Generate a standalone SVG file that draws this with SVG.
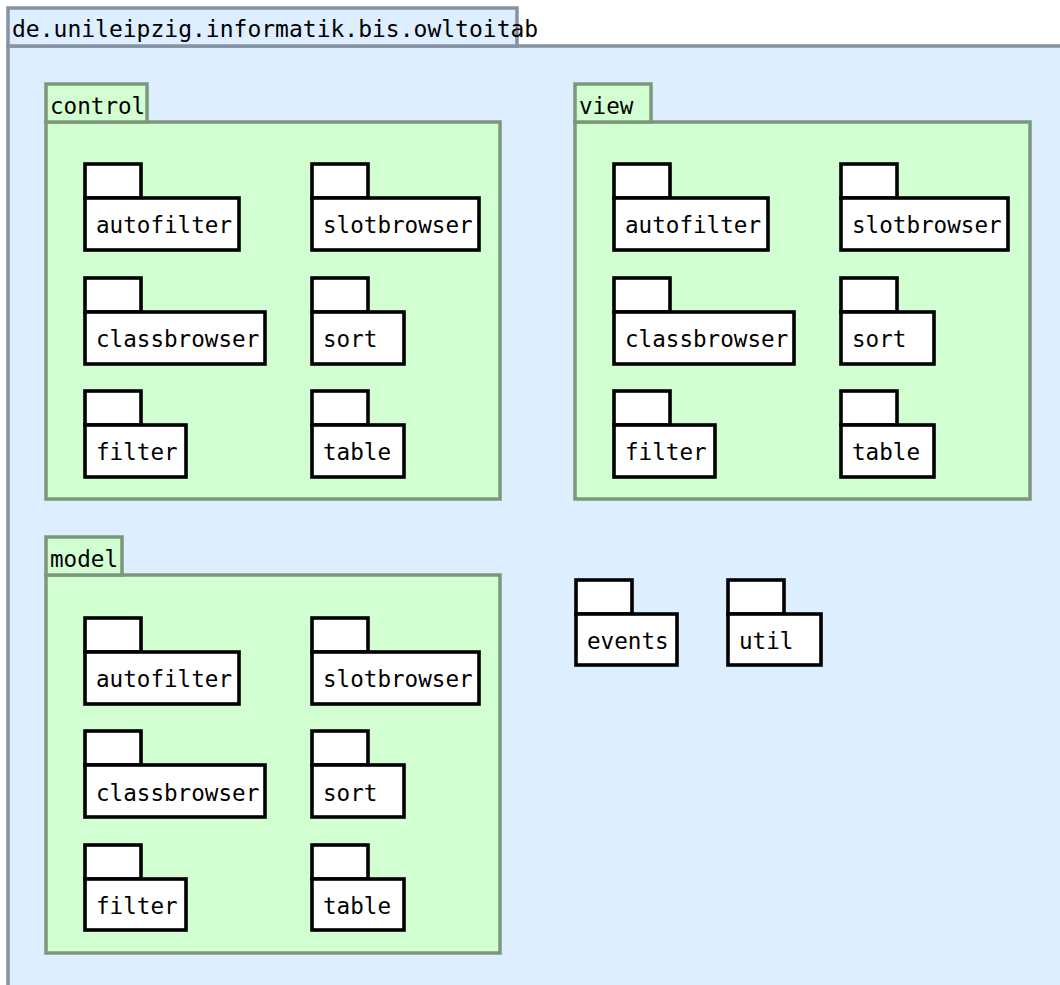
<svg xmlns="http://www.w3.org/2000/svg" width="1060" height="985" viewBox="0 0 1060 985">
<style>
text{font-family:"DejaVu Sans Mono","Liberation Mono",monospace;font-size:22.6px;fill:#000}
.title{font-size:23px}
.outer{fill:#ddeeff;stroke:#8592a2;stroke-width:3.5}
.grp{fill:#d2ffd2;stroke:#7b987b;stroke-width:3.5}
.pkg{fill:#fff;stroke:#000;stroke-width:3.6}
</style>
<rect width="1060" height="985" fill="#fff"/>
<g id="owltoitab">
<rect class="outer" x="8" y="46" width="1070" height="960"/>
<rect class="outer" x="8" y="8" width="509" height="38"/>
<text class="title" x="12" y="37">de.unileipzig.informatik.bis.owltoitab</text>
</g>
<g id="control">
<rect class="grp" x="46" y="122" width="454" height="377"/>
<rect class="grp" x="46" y="84" width="101" height="38"/>
<text x="50" y="114">control</text>
</g>
<g id="view">
<rect class="grp" x="575" y="122" width="455" height="377"/>
<rect class="grp" x="575" y="84" width="76" height="38"/>
<text x="579" y="114">view</text>
</g>
<g id="model">
<rect class="grp" x="46" y="575" width="454" height="378"/>
<rect class="grp" x="46" y="537" width="76" height="38"/>
<text x="50" y="567">model</text>
</g>
<g id="control-autofilter"><rect class="pkg" x="85" y="164" width="56" height="34"/><rect class="pkg" x="85" y="198" width="154" height="52"/><text x="96" y="232.5">autofilter</text></g>
<g id="control-slotbrowser"><rect class="pkg" x="312" y="164" width="56" height="34"/><rect class="pkg" x="312" y="198" width="167" height="52"/><text x="323" y="232.5">slotbrowser</text></g>
<g id="control-classbrowser"><rect class="pkg" x="85" y="278" width="56" height="34"/><rect class="pkg" x="85" y="312" width="180" height="52"/><text x="96" y="346.5">classbrowser</text></g>
<g id="control-sort"><rect class="pkg" x="312" y="278" width="56" height="34"/><rect class="pkg" x="312" y="312" width="92" height="52"/><text x="323" y="346.5">sort</text></g>
<g id="control-filter"><rect class="pkg" x="85" y="391" width="56" height="34"/><rect class="pkg" x="85" y="425" width="101" height="52"/><text x="96" y="459.5">filter</text></g>
<g id="control-table"><rect class="pkg" x="312" y="391" width="56" height="34"/><rect class="pkg" x="312" y="425" width="92" height="52"/><text x="323" y="459.5">table</text></g>
<g id="view-autofilter"><rect class="pkg" x="614" y="164" width="56" height="34"/><rect class="pkg" x="614" y="198" width="154" height="52"/><text x="625" y="232.5">autofilter</text></g>
<g id="view-slotbrowser"><rect class="pkg" x="841" y="164" width="56" height="34"/><rect class="pkg" x="841" y="198" width="167" height="52"/><text x="852" y="232.5">slotbrowser</text></g>
<g id="view-classbrowser"><rect class="pkg" x="614" y="278" width="56" height="34"/><rect class="pkg" x="614" y="312" width="180" height="52"/><text x="625" y="346.5">classbrowser</text></g>
<g id="view-sort"><rect class="pkg" x="841" y="278" width="56" height="34"/><rect class="pkg" x="841" y="312" width="93" height="52"/><text x="852" y="346.5">sort</text></g>
<g id="view-filter"><rect class="pkg" x="614" y="391" width="56" height="34"/><rect class="pkg" x="614" y="425" width="101" height="52"/><text x="625" y="459.5">filter</text></g>
<g id="view-table"><rect class="pkg" x="841" y="391" width="56" height="34"/><rect class="pkg" x="841" y="425" width="93" height="52"/><text x="852" y="459.5">table</text></g>
<g id="model-autofilter"><rect class="pkg" x="85" y="618" width="56" height="34"/><rect class="pkg" x="85" y="652" width="154" height="52"/><text x="96" y="686.5">autofilter</text></g>
<g id="model-slotbrowser"><rect class="pkg" x="312" y="618" width="56" height="34"/><rect class="pkg" x="312" y="652" width="167" height="52"/><text x="323" y="686.5">slotbrowser</text></g>
<g id="model-classbrowser"><rect class="pkg" x="85" y="731" width="56" height="34"/><rect class="pkg" x="85" y="765" width="180" height="52"/><text x="96" y="800.5">classbrowser</text></g>
<g id="model-sort"><rect class="pkg" x="312" y="731" width="56" height="34"/><rect class="pkg" x="312" y="765" width="92" height="52"/><text x="323" y="800.5">sort</text></g>
<g id="model-filter"><rect class="pkg" x="85" y="845" width="56" height="34"/><rect class="pkg" x="85" y="879" width="101" height="51"/><text x="96" y="913.5">filter</text></g>
<g id="model-table"><rect class="pkg" x="312" y="845" width="56" height="34"/><rect class="pkg" x="312" y="879" width="92" height="51"/><text x="323" y="913.5">table</text></g>
<g id="events"><rect class="pkg" x="576" y="580" width="56" height="34"/><rect class="pkg" x="576" y="614" width="101" height="51"/><text x="587" y="648.5">events</text></g>
<g id="util"><rect class="pkg" x="728" y="580" width="56" height="34"/><rect class="pkg" x="728" y="614" width="93" height="51"/><text x="739" y="648.5">util</text></g>
<g id="connectors"/>
</svg>
